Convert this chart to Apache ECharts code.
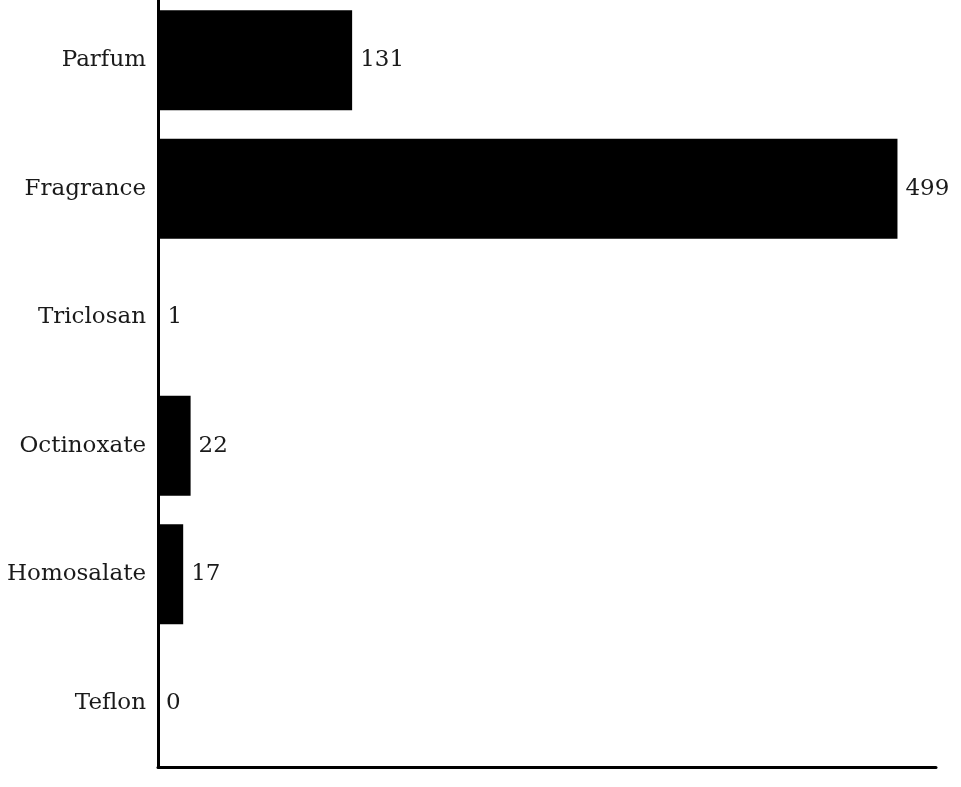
<!DOCTYPE html>
<html>
<head>
<meta charset="utf-8">
<script src="https://cdn.jsdelivr.net/npm/echarts@6/dist/echarts.min.js"></script>
<style>
  html, body { margin: 0; padding: 0; background: #fff; }
  #main { width: 961px; height: 787px; }
</style>
</head>
<body>
<div id="main"></div>
<script>
var categories = ['Parfum', 'Fragrance', 'Triclosan', 'Octinoxate', 'Homosalate', 'Teflon'];
var counts = [131, 499, 1, 22, 17, 0];

var myChart = echarts.init(document.getElementById('main'));

var font = 'DejaVu Serif';

var option = {
  animation: false,
  grid: {
    left: 158,
    right: 25,
    top: -4,
    height: 771,
    outerBoundsMode: 'none',
    containLabel: false
  },
  xAxis: {
    type: 'value',
    min: 0,
    max: 525,
    axisLine: { show: true, lineStyle: { color: '#000', width: 3 } },
    axisTick: { show: false },
    axisLabel: { show: false },
    splitLine: { show: false }
  },
  yAxis: {
    type: 'category',
    inverse: true,
    data: categories,
    axisLine: { show: true, lineStyle: { color: '#000', width: 3 } },
    axisTick: { show: false },
    axisLabel: {
      margin: 12,
      color: '#1a1a1a',
      fontFamily: font,
      fontSize: 23
    }
  },
  series: [{
    type: 'bar',
    data: counts,
    barCategoryGap: '22%',
    itemStyle: { color: '#000' },
    label: {
      show: true,
      position: 'right',
      distance: 8,
      color: '#1a1a1a',
      fontFamily: font,
      fontSize: 23
    }
  }]
};

myChart.setOption(option);
</script>
</body>
</html>
